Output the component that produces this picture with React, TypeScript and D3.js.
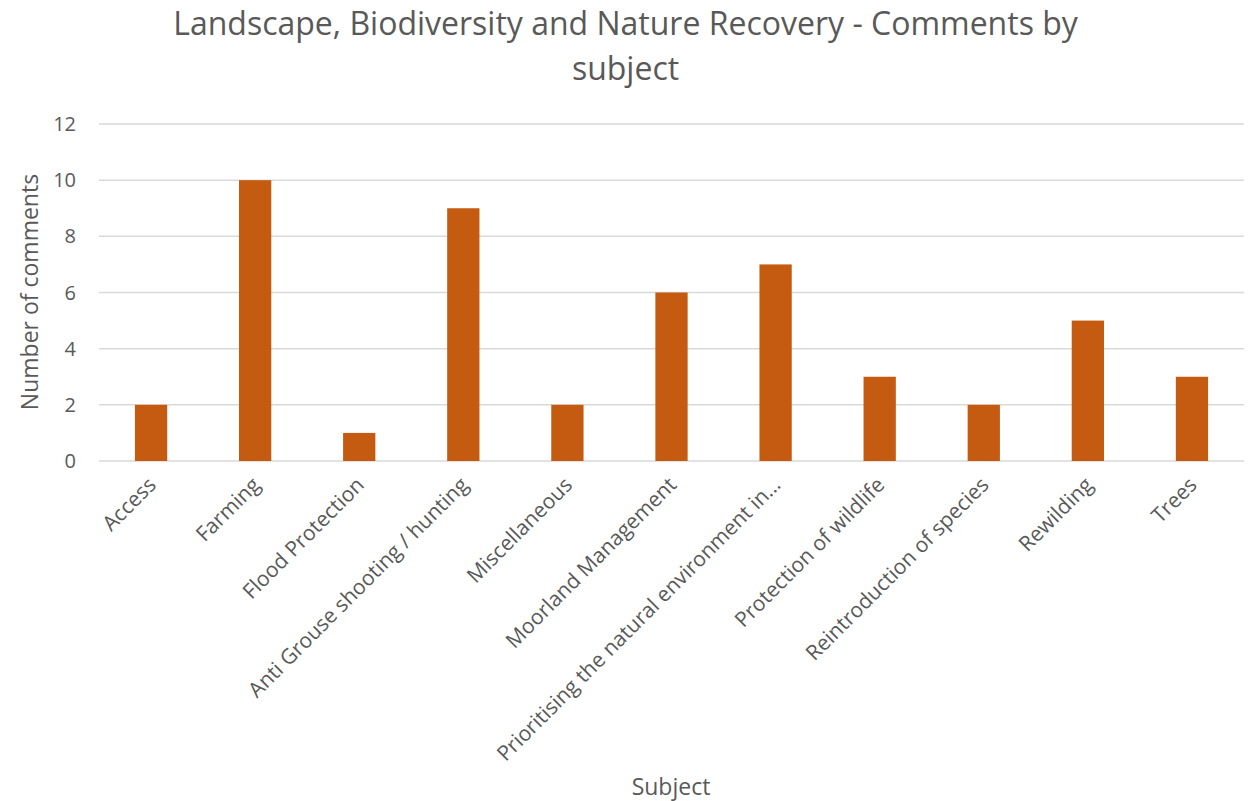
import React from "react";
import * as d3 from "d3";

const categories = [
  "Access",
  "Farming",
  "Flood Protection",
  "Anti Grouse shooting / hunting",
  "Miscellaneous",
  "Moorland Management",
  "Prioritising the natural environment in…",
  "Protection of wildlife",
  "Reintroduction of species",
  "Rewilding",
  "Trees",
];
const values = [2, 10, 1, 9, 2, 6, 7, 3, 2, 5, 3];
const yTicks = [0, 2, 4, 6, 8, 10, 12];
const titleLines = ["Landscape, Biodiversity and Nature Recovery - Comments by", "subject"];

const W = 1251;
const H = 801;
const left = 99;
const right = 1244;
const top = 124;
const bottom = 461;
const FONT = "'Open Sans', sans-serif";
const TXT = "#595959";

export default function App() {
  const x = d3.scaleBand<string>().domain(categories).range([left, right]).paddingInner(0.69).paddingOuter(0.345);
  const y = d3.scaleLinear().domain([0, 12]).range([bottom, top]);
  return (
    <svg width={W} height={H} style={{ position: "absolute", left: 0, top: 0, background: "#fff" }} fontFamily={FONT}>
      {titleLines.map((t, i) => (
        <text key={i} x={625.5} y={35 + i * 45} textAnchor="middle" fontSize={32} fill={TXT}>
          {t}
        </text>
      ))}
      {yTicks.map((t) => (
        <g key={t}>
          <line x1={left} x2={right} y1={y(t)} y2={y(t)} stroke="#d9d9d9" strokeWidth={1.5} />
          <text x={76} y={y(t)} dy="0.35em" textAnchor="end" fontSize={20} fill={TXT}>
            {t}
          </text>
        </g>
      ))}
      {categories.map((c, i) => (
        <rect key={c} x={x(c)} y={y(values[i])} width={x.bandwidth()} height={y(0) - y(values[i])} fill="#C55A11" />
      ))}
      {categories.map((c) => {
        const cx = (x(c) as number) + x.bandwidth() / 2;
        return (
          <text
            key={c}
            transform={`translate(${cx + 1},${481}) rotate(-45)`}
            textAnchor="end"
            dy="0.35em"
            fontSize={21}
            fill={TXT}
          >
            {c}
          </text>
        );
      })}
      <text x={671} y={795} textAnchor="middle" fontSize={23} fill={TXT}>
        Subject
      </text>
      <text transform={`translate(38,292) rotate(-90)`} textAnchor="middle" fontSize={23} fill={TXT}>
        Number of comments
      </text>
    </svg>
  );
}
